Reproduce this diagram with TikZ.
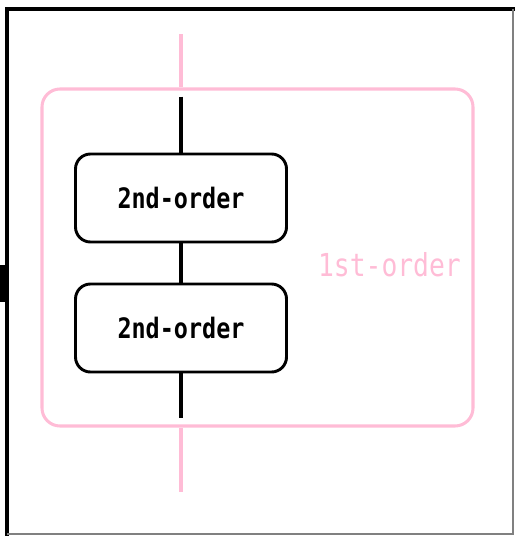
\documentclass[tikz,border=0pt]{standalone}
\usepackage{fontspec}
\setmonofont{DejaVu Sans Mono}
\usetikzlibrary{positioning}
\definecolor{orderpink}{RGB}{255,188,214}
% 等宽字略拉高
\newcommand{\tallmono}[1]{\scalebox{1}[1.2]{#1}}

\begin{document}
\begin{tikzpicture}[x=0.03cm, y=-0.03cm,
    secondbox/.style={draw, line width=2.5pt, rounded corners=0.45cm,
        minimum width=6.33cm, minimum height=2.64cm,
        font=\ttfamily\bfseries\fontsize{20}{20}\selectfont},
    firstbox/.style={draw=orderpink, line width=2.6pt, rounded corners=0.54cm,
        minimum width=12.93cm, minimum height=10.11cm},
    wire/.style={line width=2.6pt},
    pinkwire/.style={draw=orderpink, line width=2.6pt}]
    \useasboundingbox (0,0) rectangle (515,536);

    % 外框
    \draw[line width=2.8pt] (7,536) -- (7,9) -- (515,9);
    \draw[gray, line width=1.2pt] (513,9) -- (513,534) -- (7,534);
    \fill (0,265) rectangle (8,302);

    % 一阶外框和标签
    \node[firstbox] (first) at (257.5,257.5) {};
    \node[text=orderpink, font=\ttfamily\fontsize{22.5}{22.5}\selectfont,
        anchor=east] (firstlabel) at (465,265) {\tallmono{1st-order}};

    % 两个二阶块
    \node[secondbox] (second1) at (181,198) {\tallmono{2nd-order}};
    \node[secondbox] (second2) at (181,328) {\tallmono{2nd-order}};

    % 连线端点
    \coordinate (pinkTop) at (first.north -| second1.north);
    \coordinate (pinkBottom) at (first.south -| second2.south);
    \coordinate (inTop) at ([yshift=1.68cm]second1.north);
    \coordinate (outBottom) at ([yshift=-1.35cm]second2.south);

    % 竖线
    \draw[pinkwire] ([yshift=1.59cm]pinkTop) -- (pinkTop);
    \draw[wire] (inTop) -- (second1.north);
    \draw[wire] (second1) -- (second2);
    \draw[wire] (second2.south) -- (outBottom);
    \draw[pinkwire] (pinkBottom) -- ([yshift=-1.92cm]pinkBottom);
\end{tikzpicture}
\end{document}
